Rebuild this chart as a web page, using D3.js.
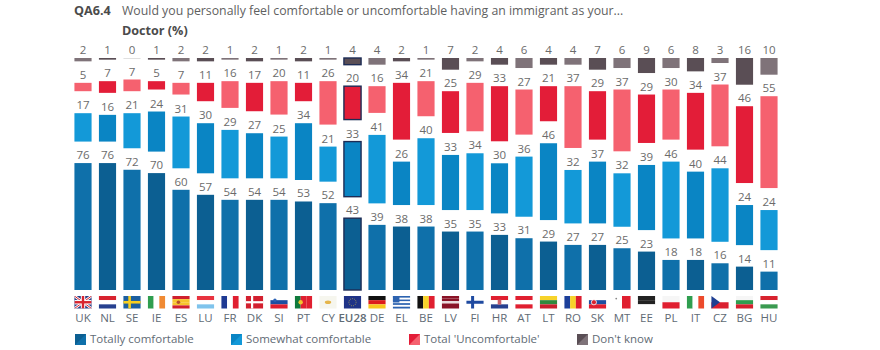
<!DOCTYPE html>
<html>
<head>
<meta charset="utf-8">
<style>
  html, body { margin: 0; background: #fff; }
  svg { display: block; font-family: "Open Sans", sans-serif; }
  .val { font-size: 11.5px; fill: #6b6b6b; text-anchor: middle; }
  .country { font-size: 11.5px; fill: #5f6b75; text-anchor: middle; }
  .legend { font-size: 11.5px; fill: #5f6b75; }
</style>
</head>
<body>
<script src="https://cdn.jsdelivr.net/npm/d3@7/dist/d3.min.js"></script>
<script>
  const countries = ['UK','NL','SE','IE','ES','LU','FR','DK','SI','PT','CY','EU28','DE','EL','BE','LV','FI','HR','AT','LT','RO','SK','MT','EE','PL','IT','CZ','BG','HU'];
  const dontKnow      = [2,1,0,1,2,2,1,2,1,2,1,4,4,2,1,7,2,4,6,4,4,7,6,9,6,8,3,16,10];
  const uncomfortable = [5,7,7,5,7,11,16,17,20,11,26,20,16,34,21,25,29,33,27,21,37,29,37,29,30,34,37,46,55];
  const somewhat      = [17,16,21,24,31,30,29,27,25,34,21,33,41,26,40,33,34,30,36,46,32,37,32,39,46,40,44,24,24];
  const totally       = [76,76,72,70,60,57,54,54,54,53,52,43,39,38,38,35,35,33,31,29,27,27,25,23,18,18,16,14,11];
  const legendLabels  = ['Totally comfortable','Somewhat comfortable',"Total 'Uncomfortable'","Don't know"];

  // light / dark pairs, the bars alternate between them
  const totallyCol = ['#0f70aa', '#0c5f92'];
  const somewhatCol = ['#1399d8', '#0a85c4'];
  const uncomfCol = ['#f5616f', '#e31d38'];
  const dkCol = ['#7f7379', '#5a4e55'];

  // simple flags: direction + stripes, extras drawn in drawFlag
  const flagStripes = {
    UK: ['h', '#2b3f86'], NL: ['h', '#d8232f', '#fff', '#27408f'], SE: ['h', '#1c5fa0'],
    IE: ['v', '#2f9e4f', '#fff', '#f08a33'], ES: ['h', '#d0202e', '#f6c52d', '#f6c52d', '#d0202e'],
    LU: ['h', '#e8333f', '#fff', '#7fc3ec'], FR: ['v', '#1f3a93', '#fff', '#e01f30'],
    DK: ['h', '#d3202f'], SI: ['h', '#fff', '#1e4ea1', '#e01f30'], PT: ['v', '#0f7a3c', '#e01f30', '#e01f30'],
    CY: ['h', '#f6f6ee'], EU28: ['h', '#1f3387'], DE: ['h', '#111', '#dd1c1c', '#f8c81e'],
    EL: ['h', '#2d63b0', '#fff', '#2d63b0', '#fff', '#2d63b0', '#fff', '#2d63b0'],
    BE: ['v', '#111', '#f7d32a', '#e01f30'], LV: ['h', '#8a1327', '#8a1327', '#e9d9dc', '#8a1327', '#8a1327'],
    FI: ['h', '#fff'], HR: ['h', '#e01f30', '#fff', '#27408f'], AT: ['h', '#e01f30', '#fff', '#e01f30'],
    LT: ['h', '#f7d32a', '#2f8a3e', '#c8202e'], RO: ['v', '#1c3f9a', '#f7d32a', '#dc1c2e'],
    SK: ['h', '#fff', '#1e4ea1', '#e01f30'], MT: ['v', '#fff', '#e01f30'], EE: ['h', '#222', '#222', '#fff'],
    PL: ['h', '#f6f6f6', '#e01f30'], IT: ['v', '#2f9e4f', '#fff', '#ec4a2c'], CZ: ['h', '#fff', '#db2030'],
    BG: ['h', '#f6f6f6', '#2f9e4f', '#d6202e'], HU: ['h', '#d8232f', '#fff', '#3a9a50']
  };

  const w = 880, h = 350;
  const gap = 21.5, barTop = 58, base = 290;

  const svg = d3.select('body').append('svg').attr('width', w).attr('height', h);
  const defs = svg.append('defs');

  const x = d3.scaleBand().domain(countries).range([70.75, 781.25]).paddingInner(0.3).paddingOuter(0.15);
  const len = d3.scaleLinear().domain([0, 100]).range([0, 167]);

  // grey and red hang from the top, the blues stand on the baseline
  const rows = countries.map((c, i) => {
    const dkY = barTop, dkH = len(dontKnow[i]);
    const uY = dkY + dkH + gap, uH = len(uncomfortable[i]);
    const tH = len(totally[i]), tY = base - tH;
    const sH = len(somewhat[i]), sY = tY - gap - sH;
    return {c, i, alt: i % 2, segs: [
      {y: dkY, h: dkH, v: dontKnow[i], col: dkCol},
      {y: uY, h: uH, v: uncomfortable[i], col: uncomfCol},
      {y: sY, h: sH, v: somewhat[i], col: somewhatCol},
      {y: tY, h: tH, v: totally[i], col: totallyCol}
    ]};
  });

  const bars = svg.append('g').selectAll('g').data(rows).join('g')
    .attr('transform', d => `translate(${x(d.c)},0)`);

  bars.selectAll('rect').data(d => d.segs.map(s => ({...s, alt: d.alt, c: d.c}))).join('rect')
    .attr('y', d => d.y)
    .attr('width', x.bandwidth())
    .attr('height', d => Math.max(d.h, 0.6))
    .attr('fill', d => d.v === 0 ? '#ccc' : d.col[d.alt])
    .attr('stroke', d => d.c === 'EU28' ? '#1d2c55' : 'none')
    .attr('stroke-width', 1.4);

  bars.selectAll('text').data(d => d.segs).join('text')
    .attr('class', 'val')
    .attr('x', x.bandwidth() / 2)
    .attr('y', d => d.y - 4)
    .text(d => d.v);

  function drawFlag(g, c, i) {
    const fw = x.bandwidth(), fh = 12.5;
    const spec = flagStripes[c];
    const n = spec.length - 1;
    spec.slice(1).forEach((col, k) => {
      const isH = spec[0] === 'h';
      g.append('rect')
        .attr('x', isH ? 0 : k * fw / n).attr('y', isH ? k * fh / n : 0)
        .attr('width', isH ? fw : fw / n).attr('height', isH ? fh / n : fh)
        .attr('fill', col);
    });
    const cross = (col, t) => {
      g.append('rect').attr('x', 0).attr('y', (fh - t) / 2).attr('width', fw).attr('height', t).attr('fill', col);
      g.append('rect').attr('x', fw * 0.36 - t / 2).attr('y', 0).attr('width', t).attr('height', fh).attr('fill', col);
    };
    if (c === 'SE') cross('#f8cf1f', 2.6);
    if (c === 'DK') cross('#fff', 2.2);
    if (c === 'FI') cross('#1f4aa0', 3);
    if (c === 'UK') {
      const id = 'ukclip';
      defs.append('clipPath').attr('id', id).append('rect').attr('width', fw).attr('height', fh);
      const u = g.append('g').attr('clip-path', `url(#${id})`);
      [[0, 0, fw, fh], [0, fh, fw, 0]].forEach(l => {
        u.append('line').attr('x1', l[0]).attr('y1', l[1]).attr('x2', l[2]).attr('y2', l[3]).attr('stroke', '#fff').attr('stroke-width', 2.6);
        u.append('line').attr('x1', l[0]).attr('y1', l[1]).attr('x2', l[2]).attr('y2', l[3]).attr('stroke', '#d8232f').attr('stroke-width', 1);
      });
      u.append('rect').attr('x', fw / 2 - 2.2).attr('width', 4.4).attr('height', fh).attr('fill', '#fff');
      u.append('rect').attr('y', fh / 2 - 2.2).attr('width', fw).attr('height', 4.4).attr('fill', '#fff');
      u.append('rect').attr('x', fw / 2 - 1.2).attr('width', 2.4).attr('height', fh).attr('fill', '#d8232f');
      u.append('rect').attr('y', fh / 2 - 1.2).attr('width', fw).attr('height', 2.4).attr('fill', '#d8232f');
    }
    if (c === 'ES') g.append('circle').attr('cx', 6).attr('cy', fh / 2).attr('r', 1.8).attr('fill', '#b5502a');
    if (c === 'SI') g.append('circle').attr('cx', 4.5).attr('cy', 4.2).attr('r', 1.7).attr('fill', '#2c62b5');
    if (c === 'SK') g.append('circle').attr('cx', 5).attr('cy', fh / 2).attr('r', 2.6).attr('fill', '#d8232f').attr('stroke', '#fff').attr('stroke-width', 0.8);
    if (c === 'HR') g.append('rect').attr('x', fw / 2 - 1.8).attr('y', 3.6).attr('width', 3.6).attr('height', 5).attr('fill', '#c9606a');
    if (c === 'PT') g.append('circle').attr('cx', fw / 3).attr('cy', fh / 2).attr('r', 2.2).attr('fill', '#f2c42e');
    if (c === 'CY') g.append('ellipse').attr('cx', fw / 2).attr('cy', fh / 2).attr('rx', 3.2).attr('ry', 1.8).attr('fill', '#e5b54a');
    if (c === 'EU28') g.append('circle').attr('cx', fw / 2).attr('cy', fh / 2).attr('r', 3.6).attr('fill', 'none').attr('stroke', '#c9b94a').attr('stroke-width', 0.7).attr('stroke-dasharray', '1 1');
    if (c === 'EL') g.append('rect').attr('width', 6.5).attr('height', 6.5).attr('fill', '#2d63b0');
    if (c === 'MT') g.append('circle').attr('cx', 2.8).attr('cy', 2.6).attr('r', 0.9).attr('fill', '#888');
    if (c === 'CZ') g.append('path').attr('d', `M0,0L${fw * 0.5},${fh / 2}L0,${fh}Z`).attr('fill', '#1f3f92');
  }

  const flags = svg.append('g').selectAll('g').data(rows).join('g')
    .attr('transform', d => `translate(${x(d.c)},296)`);
  flags.each(function(d) { drawFlag(d3.select(this), d.c, d.i); });

  svg.append('g').selectAll('text').data(countries).join('text')
    .attr('class', 'country')
    .attr('x', d => x(d) + x.bandwidth() / 2)
    .attr('y', 322)
    .attr('font-weight', d => d === 'EU28' ? 600 : null)
    .text(d => d);

  // title
  const title = svg.append('g');
  title.append('text').attr('x', 74).attr('y', 15).attr('font-size', 12.6).attr('font-weight', 700).attr('fill', '#4b4b4b').text('QA6.4');
  title.append('text').attr('x', 122).attr('y', 15).attr('font-size', 12.3).attr('fill', '#5f5f5f')
    .text('Would you personally feel comfortable or uncomfortable having an immigrant as your...');
  title.append('text').attr('x', 122).attr('y', 35).attr('font-size', 12.6).attr('font-weight', 700).attr('fill', '#4b4b4b').text('Doctor (%)');

  // legend, each swatch is split into the light and dark shade
  const legendX = [75, 231, 409, 577];
  const legendCols = [totallyCol, somewhatCol, uncomfCol, dkCol];
  const lg = svg.append('g').selectAll('g').data(legendLabels).join('g')
    .attr('transform', (d, i) => `translate(${legendX[i]},334)`);
  lg.append('rect').attr('width', 11).attr('height', 11).attr('fill', (d, i) => legendCols[i][1]);
  lg.append('path').attr('d', 'M11,0L11,11L0,11Z').attr('fill', (d, i) => legendCols[i][0]);
  lg.append('text').attr('class', 'legend').attr('x', 15).attr('y', 9).text(d => d);
</script>
</body>
</html>
